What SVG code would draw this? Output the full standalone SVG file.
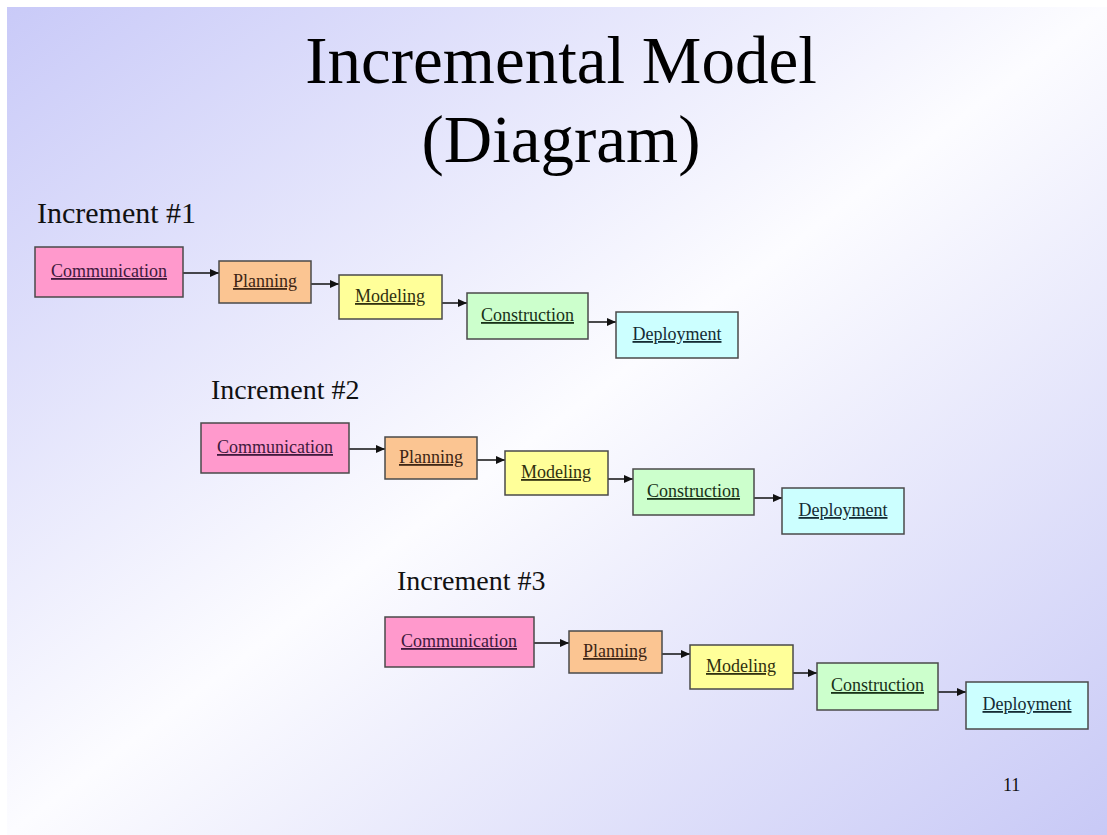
<svg xmlns="http://www.w3.org/2000/svg" width="1107" height="835" viewBox="0 0 1107 835">
<defs>
<linearGradient id="bg" x1="0" y1="0" x2="1" y2="1">
<stop offset="0" stop-color="#c9caf8"/>
<stop offset="0.5" stop-color="#fcfcff"/>
<stop offset="1" stop-color="#c8c9f6"/>
</linearGradient>
<marker id="arr" markerUnits="userSpaceOnUse" markerWidth="10" markerHeight="9" refX="9" refY="4" orient="auto">
<path d="M0,0 L9,4 L0,8 z" fill="#111"/>
</marker>
<style>
.title{font-family:"Liberation Serif","Times New Roman",serif;font-size:67px;fill:#000;text-anchor:middle}
.inc{font-family:"Liberation Serif","Times New Roman",serif;font-size:28px;fill:#111}
.lbl{font-family:"Liberation Serif","Times New Roman",serif;font-size:18px;text-anchor:middle;text-decoration:underline}
.box{stroke:#4a4a4a;stroke-width:1.5}
.comm{fill:#ff99cc}.commt{fill:#3e1a3c}
.plan{fill:#fbc592}.plant{fill:#3e2614}
.model{fill:#ffff99}.modelt{fill:#30300f}
.constr{fill:#ccffcc}.constrt{fill:#183218}
.deploy{fill:#ccffff}.deployt{fill:#142c34}
.con{stroke:#111;stroke-width:1.5;fill:none;marker-end:url(#arr)}
.pg{font-family:"Liberation Serif","Times New Roman",serif;font-size:18px;fill:#111}
</style>
</defs>
<rect x="0" y="0" width="1107" height="835" fill="#ffffff"/>
<rect x="7" y="7" width="1100" height="828" fill="url(#bg)"/>
<text class="title" x="561" y="83">Incremental Model</text>
<text class="title" x="561" y="162">(Diagram)</text>
<text class="inc" x="37" y="223" style="font-size:30px">Increment #1</text>
<text class="inc" x="211" y="399">Increment #2</text>
<text class="inc" x="397" y="590">Increment #3</text>
<g id="connectors">
<path class="con" d="M183,273 H219"/>
<path class="con" d="M311,284 H339"/>
<path class="con" d="M433,303 H467"/>
<path class="con" d="M588,322 H616"/>
<path class="con" d="M349,449 H385"/>
<path class="con" d="M477,460 H505"/>
<path class="con" d="M599,479 H633"/>
<path class="con" d="M754,498 H782"/>
<path class="con" d="M534,643 H569"/>
<path class="con" d="M662,654 H690"/>
<path class="con" d="M784,673 H817"/>
<path class="con" d="M938,692 H966"/>
</g>
<g id="comm1"><rect class="box comm" x="35" y="247" width="148" height="50"/><text class="lbl commt" x="109" y="277">Communication</text></g>
<g id="plan1"><rect class="box plan" x="219" y="261" width="92" height="42"/><text class="lbl plant" x="265" y="287">Planning</text></g>
<g id="model1"><rect class="box model" x="339" y="275" width="103" height="44"/><text class="lbl modelt" x="390" y="302">Modeling</text></g>
<g id="constr1"><rect class="box constr" x="467" y="293" width="121" height="46"/><text class="lbl constrt" x="527.5" y="321">Construction</text></g>
<g id="deploy1"><rect class="box deploy" x="616" y="312" width="122" height="46"/><text class="lbl deployt" x="677" y="340">Deployment</text></g>
<g id="comm2"><rect class="box comm" x="201" y="423" width="148" height="50"/><text class="lbl commt" x="275" y="453">Communication</text></g>
<g id="plan2"><rect class="box plan" x="385" y="437" width="92" height="42"/><text class="lbl plant" x="431" y="463">Planning</text></g>
<g id="model2"><rect class="box model" x="505" y="451" width="103" height="44"/><text class="lbl modelt" x="556" y="478">Modeling</text></g>
<g id="constr2"><rect class="box constr" x="633" y="469" width="121" height="46"/><text class="lbl constrt" x="693.5" y="497">Construction</text></g>
<g id="deploy2"><rect class="box deploy" x="782" y="488" width="122" height="46"/><text class="lbl deployt" x="843" y="516">Deployment</text></g>
<g id="comm3"><rect class="box comm" x="385" y="617" width="149" height="50"/><text class="lbl commt" x="459" y="647">Communication</text></g>
<g id="plan3"><rect class="box plan" x="569" y="631" width="93" height="42"/><text class="lbl plant" x="615" y="657">Planning</text></g>
<g id="model3"><rect class="box model" x="690" y="645" width="103" height="44"/><text class="lbl modelt" x="741" y="672">Modeling</text></g>
<g id="constr3"><rect class="box constr" x="817" y="663" width="121" height="47"/><text class="lbl constrt" x="877.5" y="691">Construction</text></g>
<g id="deploy3"><rect class="box deploy" x="966" y="682" width="122" height="47"/><text class="lbl deployt" x="1027" y="710">Deployment</text></g>
<text class="pg" x="1003" y="791">11</text>
</svg>
